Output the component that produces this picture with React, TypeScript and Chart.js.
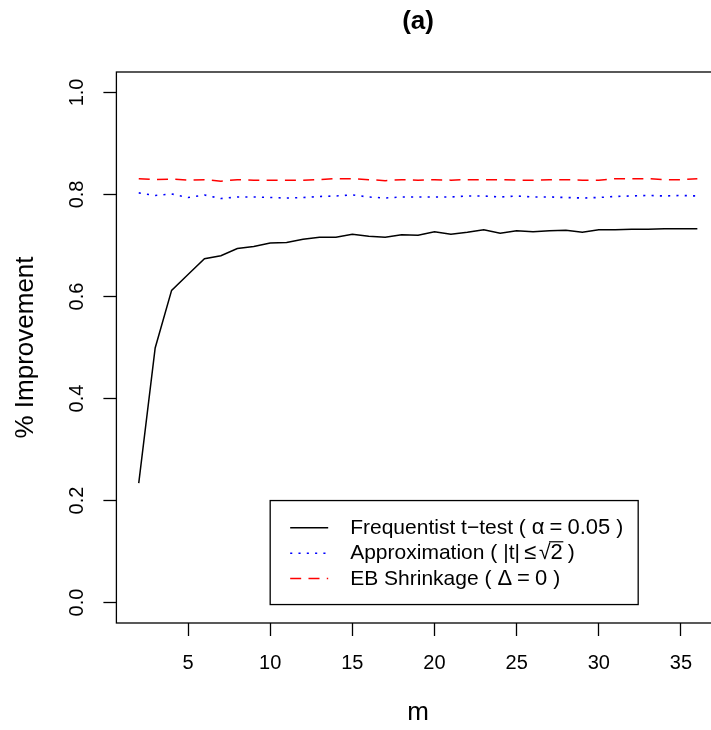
import React, { useEffect, useRef } from "react";
import { Chart, registerables } from "chart.js";

Chart.register(...registerables);

// ---------------- data ----------------
const mValues = [2, 3, 4, 5, 6, 7, 8, 9, 10, 11, 12, 13, 14, 15, 16, 17, 18, 19, 20, 21, 22, 23, 24, 25, 26, 27, 28, 29, 30, 31, 32, 33, 34, 35, 36];

const frequentist = [0.234, 0.499, 0.612, 0.643, 0.674, 0.680, 0.694, 0.698, 0.705, 0.706, 0.712, 0.716, 0.716, 0.722, 0.718, 0.716, 0.721, 0.720, 0.727, 0.722, 0.726, 0.731, 0.724, 0.729, 0.727, 0.729, 0.730, 0.726, 0.731, 0.731, 0.732, 0.732, 0.733, 0.733, 0.733];

const approximation = [0.803, 0.798, 0.801, 0.794, 0.799, 0.792, 0.795, 0.795, 0.794, 0.793, 0.794, 0.796, 0.797, 0.799, 0.795, 0.793, 0.795, 0.795, 0.795, 0.795, 0.797, 0.797, 0.795, 0.797, 0.795, 0.795, 0.794, 0.793, 0.794, 0.796, 0.797, 0.798, 0.797, 0.798, 0.797];

const ebShrinkage = [0.831, 0.829, 0.830, 0.828, 0.829, 0.826, 0.829, 0.828, 0.828, 0.828, 0.828, 0.829, 0.831, 0.831, 0.829, 0.827, 0.829, 0.828, 0.829, 0.828, 0.829, 0.829, 0.829, 0.828, 0.828, 0.829, 0.829, 0.828, 0.828, 0.831, 0.831, 0.831, 0.829, 0.829, 0.831];

const xTickValues = [5, 10, 15, 20, 25, 30, 35];
const yTickValues = [0, 0.2, 0.4, 0.6, 0.8, 1.0];

const titleText = "(a)";
const xAxisTitle = "m";
const yAxisTitle = "% Improvement";

// legend anchored (top-left) in data coordinates, like R's legend(x, y, ...)
const legendAnchorX = 10;
const legendAnchorY = 0.2;

const FONT = "'Liberation Sans', Arial, Helvetica, sans-serif";

type Piece = { t: string; s: number; sqrt?: boolean } | { gap: number };

const TXT = 21; // plain legend text size
const MTH = 22; // plotmath glyph size

const legendRows: { color: string; dash: number[]; pieces: Piece[] }[] = [
  {
    color: "#000000",
    dash: [],
    pieces: [
      { t: "Frequentist t\u2212test (", s: TXT },
      { gap: 6 },
      { t: "\u03b1", s: MTH },
      { gap: 5 },
      { t: "=", s: MTH },
      { gap: 5 },
      { t: "0.05", s: MTH },
      { gap: 6 },
      { t: ")", s: TXT },
    ],
  },
  {
    color: "#0000ff",
    dash: [2.1, 6.2],
    pieces: [
      { t: "Approximation (", s: TXT },
      { gap: 6 },
      { t: "|t|", s: TXT },
      { gap: 4 },
      { t: "\u2264", s: MTH },
      { gap: 3 },
      { t: "2", s: MTH, sqrt: true },
      { gap: 5 },
      { t: ")", s: TXT },
    ],
  },
  {
    color: "#ff0000",
    dash: [11, 7.3],
    pieces: [
      { t: "EB Shrinkage (", s: TXT },
      { gap: 6 },
      { t: "\u0394", s: MTH },
      { gap: 5 },
      { t: "=", s: MTH },
      { gap: 5 },
      { t: "0", s: MTH },
      { gap: 6 },
      { t: ")", s: TXT },
    ],
  },
];

const W = 740;
const H = 730;

function drawPieces(ctx: CanvasRenderingContext2D, x: number, baseline: number, pieces: Piece[]) {
  let cx = x;
  for (const p of pieces) {
    if ("gap" in p) {
      cx += p.gap;
      continue;
    }
    if (p.sqrt) {
      ctx.font = `${TXT}px ${FONT}`;
      const r = "\u221a";
      ctx.fillText(r, cx, baseline);
      const rw = ctx.measureText(r).width;
      ctx.font = `${p.s}px ${FONT}`;
      const aw = ctx.measureText(p.t).width;
      ctx.fillText(p.t, cx + rw, baseline);
      ctx.beginPath();
      ctx.lineWidth = 1.2;
      ctx.setLineDash([]);
      const yTop = baseline - TXT * 0.83;
      ctx.moveTo(cx + rw - 1.5, yTop);
      ctx.lineTo(cx + rw + aw + 0.5, yTop);
      ctx.stroke();
      cx += rw + aw;
    } else {
      ctx.font = `${p.s}px ${FONT}`;
      ctx.fillText(p.t, cx, baseline);
      cx += ctx.measureText(p.t).width;
    }
  }
}

const rPlotPlugin = {
  id: "rPlot",
  afterDatasetsDraw(chart: any) {
    const { ctx, chartArea } = chart;
    ctx.save();
    ctx.strokeStyle = "#000";
    ctx.lineWidth = 1.3;
    ctx.setLineDash([]);
    ctx.strokeRect(chartArea.left, chartArea.top, chartArea.right - chartArea.left, chartArea.bottom - chartArea.top);
    ctx.restore();
  },
  afterDraw(chart: any) {
    const { ctx } = chart;
    const xs = chart.scales.x;
    const ys = chart.scales.y;
    const left = xs.getPixelForValue(legendAnchorX);
    const top = ys.getPixelForValue(legendAnchorY);
    const w = 368;
    const h = 104;
    ctx.save();
    ctx.fillStyle = "#fff";
    ctx.fillRect(left, top, w, h);
    ctx.strokeStyle = "#000";
    ctx.lineWidth = 1.3;
    ctx.setLineDash([]);
    ctx.strokeRect(left, top, w, h);
    ctx.textBaseline = "alphabetic";
    ctx.textAlign = "left";
    legendRows.forEach((row, i) => {
      const ly = top + 27.3 + i * 25.35;
      ctx.beginPath();
      ctx.strokeStyle = row.color;
      ctx.lineWidth = 1.5;
      ctx.setLineDash(row.dash);
      ctx.moveTo(left + 20, ly);
      ctx.lineTo(left + 58, ly);
      ctx.stroke();
      ctx.setLineDash([]);
      ctx.fillStyle = "#000";
      ctx.strokeStyle = "#000";
      drawPieces(ctx, left + 80, ly + 6, row.pieces);
    });
    ctx.restore();
  },
};

export default function App() {
  const ref = useRef<HTMLCanvasElement>(null);

  useEffect(() => {
    const canvas = ref.current;
    if (!canvas) return;

    const toPts = (vals: number[]) => vals.map((v, i) => ({ x: mValues[i], y: v }));
    const xPad = (mValues[mValues.length - 1] - mValues[0]) * 0.04;
    const yPad = 0.04;

    const gridOpts = {
      display: true,
      drawOnChartArea: false,
      drawTicks: true,
      tickLength: 13,
      tickWidth: 1.3,
      tickColor: "#000",
    };

    const chart = new Chart(canvas, {
      type: "line",
      data: {
        datasets: [
          {
            label: "Frequentist",
            data: toPts(frequentist),
            borderColor: "#000000",
            borderWidth: 1.5,
            pointRadius: 0,
            tension: 0,
            fill: false,
          },
          {
            label: "Approximation",
            data: toPts(approximation),
            borderColor: "#0000ff",
            borderWidth: 1.6,
            borderDash: [2.1, 6.2],
            pointRadius: 0,
            tension: 0,
            fill: false,
          },
          {
            label: "EB Shrinkage",
            data: toPts(ebShrinkage),
            borderColor: "#ff0000",
            borderWidth: 1.5,
            borderDash: [11, 7.3],
            pointRadius: 0,
            tension: 0,
            fill: false,
          },
        ],
      },
      options: {
        animation: false,
        responsive: false,
        devicePixelRatio: 1,
        layout: { padding: { left: 0, right: W - 719.7, top: 0, bottom: 0 } },
        plugins: {
          legend: { display: false },
          tooltip: { enabled: false },
          title: {
            display: true,
            text: titleText,
            fullSize: false,
            color: "#000",
            font: { family: FONT, size: 26, weight: "bold", lineHeight: 1.2 },
            padding: { top: 6, bottom: 34.8 },
          },
        },
        scales: {
          x: {
            type: "linear",
            min: mValues[0] - xPad,
            max: mValues[mValues.length - 1] + xPad,
            afterBuildTicks: (s: any) => {
              s.ticks = xTickValues.map((v) => ({ value: v }));
            },
            afterFit: (s: any) => {
              s.height = 107;
            },
            grid: gridOpts,
            border: { display: false },
            ticks: {
              padding: 15.5,
              color: "#000",
              autoSkip: false,
              maxRotation: 0,
              minRotation: 0,
              font: { family: FONT, size: 20, lineHeight: 1.2 },
              callback: (v: any) => String(v),
            },
            title: {
              display: true,
              text: xAxisTitle,
              color: "#000",
              font: { family: FONT, size: 26, lineHeight: 1.2 },
              padding: { top: 0, bottom: 1.5 },
            },
          },
          y: {
            type: "linear",
            min: 0 - yPad,
            max: 1 + yPad,
            afterBuildTicks: (s: any) => {
              s.ticks = yTickValues.map((v) => ({ value: v }));
            },
            afterFit: (s: any) => {
              s.width = 116.4;
            },
            grid: gridOpts,
            border: { display: false },
            ticks: {
              padding: 12,
              color: "#000",
              autoSkip: false,
              minRotation: 90,
              maxRotation: 90,
              crossAlign: "center",
              font: { family: FONT, size: 20, lineHeight: 1.2 },
              callback: (v: any) => Number(v).toFixed(1),
            },
            title: {
              display: true,
              text: yAxisTitle,
              color: "#000",
              font: { family: FONT, size: 26, lineHeight: 1.2 },
              padding: { top: 10, bottom: 0 },
            },
          },
        },
      },
      plugins: [rPlotPlugin],
    } as any);

    return () => chart.destroy();
  }, []);

  return (
    <div
      style={{
        position: "absolute",
        left: 0,
        top: 0,
        width: 711,
        height: 730,
        overflow: "hidden",
        background: "#fff",
      }}
    >
      <canvas ref={ref} width={W} height={H} style={{ display: "block", width: W, height: H }} />
    </div>
  );
}
